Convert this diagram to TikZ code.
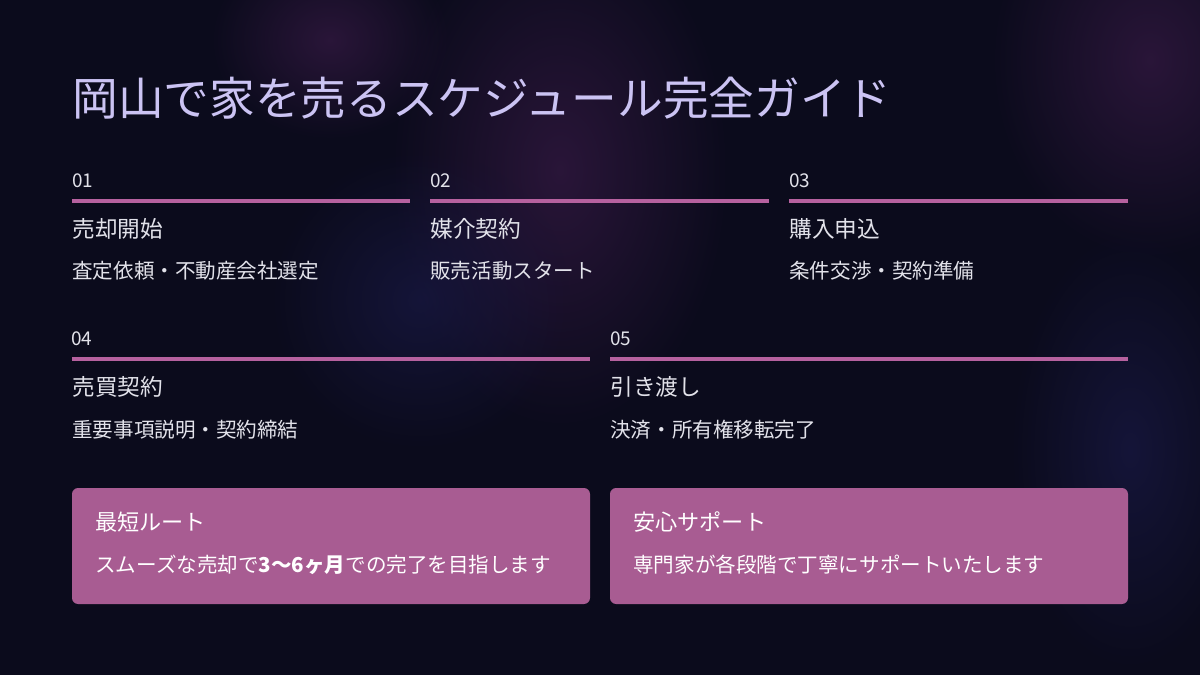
\documentclass[tikz,border=0pt]{standalone}
\usepackage{fontspec}
\setmainfont{Noto Sans CJK JP}
\usetikzlibrary{positioning,fadings}

\definecolor{bgnavy}{HTML}{0B0B1C}
\definecolor{glowpurple}{HTML}{3A1B48}
\definecolor{glowblue}{HTML}{1A1A48}
\definecolor{titlelav}{HTML}{CBC3F3}
\definecolor{steptext}{HTML}{E2E2EA}
\definecolor{rulepink}{HTML}{B6619F}
\definecolor{boxpink}{HTML}{A85C92}

\tikzfading[name=glowfade,inner color=transparent!0,outer color=transparent!100]

\tikzset{
    stepnum/.style={anchor=west,inner sep=0pt,text=steptext,font=\fontsize{10.8}{13}\selectfont},
    steptitle/.style={anchor=west,inner sep=0pt,text=steptext,font=\fontsize{12.9}{15}\selectfont},
    stepdesc/.style={anchor=west,inner sep=0pt,text=steptext,font=\fontsize{11.7}{14}\selectfont},
    steprule/.style={rulepink,line width=1.9pt},
    infobox/.style={fill=boxpink,rounded corners=3.5pt},
    boxtitle/.style={anchor=west,inner sep=0pt,text=white,font=\fontsize{12.6}{15}\selectfont},
    boxdesc/.style={anchor=west,inner sep=0pt,text=white,font=\fontsize{11.7}{14}\selectfont},
}

\begin{document}
\begin{tikzpicture}[x=0.02cm,y=-0.02cm]
    % background
    \fill[bgnavy] (0,0) rectangle (1200,675);
    \useasboundingbox (0,0) rectangle (1200,675);
    \begin{scope}[opacity=0.65]
    \fill[glowpurple,path fading=glowfade] (560,170) ellipse (170 and 260);
    \fill[glowblue,path fading=glowfade] (420,300) ellipse (150 and 150);
    \fill[glowpurple,path fading=glowfade] (1150,60) ellipse (160 and 200);
    \fill[glowblue,path fading=glowfade] (1130,450) ellipse (120 and 220);
    \fill[glowpurple,path fading=glowfade] (330,40) ellipse (120 and 100);
    \end{scope}

    \node[anchor=west,inner sep=0pt,text=titlelav,font=\fontsize{26}{31}\selectfont]
        (title) at (72,98) {岡山で家を売るスケジュール完全ガイド};

    % first row
    \node[stepnum] (num1) at (72,181) {01};
    \draw[steprule] (72,201) -- (410,201);
    \node[steptitle] (tit1) at (72,229) {売却開始};
    \node[stepdesc] (desc1) at (72,271) {査定依頼・不動産会社選定};

    \node[stepnum] (num2) at (430,181) {02};
    \draw[steprule] (430,201) -- (769,201);
    \node[steptitle] (tit2) at (430,229) {媒介契約};
    \node[stepdesc] (desc2) at (430,271) {販売活動スタート};

    \node[stepnum] (num3) at (789,181) {03};
    \draw[steprule] (789,201) -- (1128,201);
    \node[steptitle] (tit3) at (789,229) {購入申込};
    \node[stepdesc] (desc3) at (789,271) {条件交渉・契約準備};

    % second row
    \node[stepnum] (num4) at (71,339) {04};
    \draw[steprule] (72,359) -- (590,359);
    \node[steptitle] (tit4) at (72,387) {売買契約};
    \node[stepdesc] (desc4) at (72,430) {重要事項説明・契約締結};

    \node[stepnum] (num5) at (610,339) {05};
    \draw[steprule] (610,359) -- (1128,359);
    \node[steptitle] (tit5) at (610,387) {引き渡し};
    \node[stepdesc] (desc5) at (610,430) {決済・所有権移転完了};

    % boxes
    \fill[infobox] (72,488) rectangle (590,604);
    \node[boxtitle] (boxtit1) at (95,522) {最短ルート};
    \node[boxdesc] (boxdesc1) at (95,565) {スムーズな売却で\textbf{3〜6ヶ月}での完了を目指します};

    \fill[infobox] (610,488) rectangle (1128,604);
    \node[boxtitle] (boxtit2) at (633,522) {安心サポート};
    \node[boxdesc] (boxdesc2) at (633,565) {専門家が各段階で丁寧にサポートいたします};
\end{tikzpicture}
\end{document}
